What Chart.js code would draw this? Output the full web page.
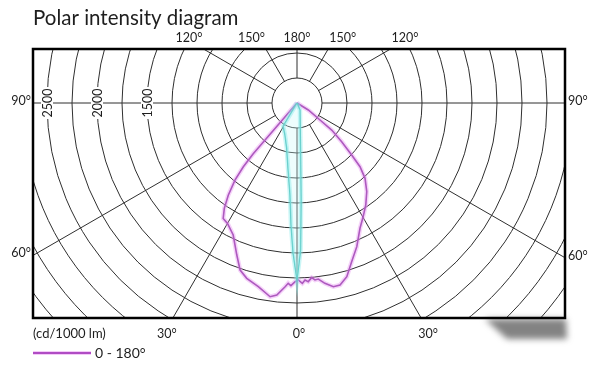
<!DOCTYPE html>
<html>
<head>
<meta charset="utf-8">
<title>Polar intensity diagram</title>
<script src="https://cdn.jsdelivr.net/npm/chart.js@4.4.1/dist/chart.umd.min.js"></script>
<style>
    html, body { margin: 0; padding: 0; background: #fff; }
    #wrap { width: 600px; height: 370px; }
</style>
</head>
<body>
<div id="wrap"><canvas id="polarChart" width="600" height="370"></canvas></div>
<script>
// --- 1. Data (angles in degrees from nadir, negative = left half; values in cd/1000 lm) ---
const magentaAngles = [-90, -40.8, -40.1, -38.8, -36.7, -34.6, -32.6, -30, -25.8, -21.6, -18.8, -16, -11.9, -7.9, -6,
    -3.7, -2.8, -1.9, -0.6, 0.4, 1.7, 2.6, 3.6, 4.8, 5.8, 6.9, 8.8, 11.2, 13.3, 16, 19, 22.6, 26.7, 30,
    34, 38.2, 42.1, 44.7, 46.4, 49.1, 52.1, 53.5, 58.2, 90];
const magentaValues = [0, 670, 833, 990, 1150, 1280, 1370, 1390, 1466, 1635, 1765, 1824, 1877, 1956, 1931,
    1841, 1805, 1828, 1787, 1770, 1804, 1772, 1790, 1753, 1779, 1773, 1825, 1873, 1870, 1807, 1679, 1556, 1402, 1320,
    1230, 1128, 1015, 896, 755, 591, 440, 286, 133, 0];

const cyanAngles = [-90, -31, -20.6, -12.9, -7.9, -4.35, -2.8, -1.5, 0, 1.4, 2.4, 4.3, 23, 90];
const cyanValues = [0, 269, 342, 462, 656, 923, 1221, 1500, 1770, 1470, 971, 471, 76, 0];

// Grid: rings (cd/1000 lm), spokes (degrees) and labels
const ringValues = [250, 500, 750, 1000, 1250, 1500, 1750, 2000, 2250, 2500, 2750, 3000, 3250];
const spokeAngles = [0, 30, 60, 90, 120, 150, 180];
const scaleLabels = [1500, 2000, 2500];
const titleText = 'Polar intensity diagram';
const unitText = '(cd/1000 lm)';
const legendText = '0 - 180°';

const FONT = 'Lato, "Open Sans", sans-serif';
const GRID_COLOR = '#2f2f2f';
const TEXT_COLOR = '#1e1e1e';

// --- 2. Helpers ---

/**
 * Converts polar readings (angle from nadir, intensity) into x/y points.
 */
function toPoints(angles, values) {
    return angles.map((a, i) => {
        const rad = a * Math.PI / 180;
        return { x: values[i] * Math.sin(rad), y: -values[i] * Math.cos(rad) };
    });
}

/**
 * Finds where a ray from the centre leaves the plot box.
 */
function edgeHit(cx, cy, dx, dy, area) {
    let t = Infinity, edge = '';
    const tests = [
        [dx < -1e-9, (area.left - cx) / dx, 'left'],
        [dx > 1e-9, (area.right - cx) / dx, 'right'],
        [dy < -1e-9, (area.top - cy) / dy, 'top'],
        [dy > 1e-9, (area.bottom - cy) / dy, 'bottom']
    ];
    tests.forEach(([ok, tt, name]) => {
        if (ok && tt < t) { t = tt; edge = name; }
    });
    return { x: cx + dx * t, y: cy + dy * t, edge: edge };
}

// --- 3. Plugin drawing the polar grid and all text ---
const polarGridPlugin = {
    id: 'polarGrid',
    beforeDatasetsDraw(chart) {
        const { ctx, chartArea: area, scales: { x, y } } = chart;
        const cx = x.getPixelForValue(0);
        const cy = y.getPixelForValue(0);
        const pxPer = (x.getPixelForValue(1000) - cx) / 1000;

        ctx.save();
        ctx.beginPath();
        ctx.rect(area.left, area.top, area.right - area.left, area.bottom - area.top);
        ctx.clip();
        ctx.strokeStyle = GRID_COLOR;
        ctx.lineWidth = 1;

        // rings
        ringValues.forEach(v => {
            ctx.beginPath();
            ctx.arc(cx, cy, v * pxPer, 0, Math.PI * 2);
            ctx.stroke();
        });

        // spokes, starting at the first ring
        const inner = ringValues[0] * pxPer;
        const outer = 4500 * pxPer;
        spokeAngles.forEach(a => {
            [-1, 1].forEach(side => {
                if ((a === 0 || a === 180) && side < 0) return;
                const rad = a * Math.PI / 180;
                const dx = side * Math.sin(rad), dy = Math.cos(rad);
                ctx.beginPath();
                ctx.moveTo(cx + dx * inner, cy + dy * inner);
                ctx.lineTo(cx + dx * outer, cy + dy * outer);
                ctx.stroke();
            });
        });

        // scale values written across the left horizontal
        ctx.font = '12.5px ' + FONT;
        ctx.textAlign = 'center';
        ctx.textBaseline = 'middle';
        scaleLabels.forEach(v => {
            ctx.save();
            ctx.translate(x.getPixelForValue(-v), cy);
            ctx.rotate(-Math.PI / 2);
            ctx.fillStyle = '#fff';
            ctx.fillRect(-16, -6, 32, 12);
            ctx.fillStyle = TEXT_COLOR;
            ctx.fillText(String(v), 0, 1);
            ctx.restore();
        });
        ctx.restore();
    },
    afterDatasetsDraw(chart) {
        const { ctx, chartArea: area, scales: { x, y } } = chart;
        const cx = x.getPixelForValue(0);
        const cy = y.getPixelForValue(0);

        ctx.save();

        // soft shadow under the bottom right corner
        ctx.filter = 'blur(3px)';
        ctx.fillStyle = 'rgba(90,90,90,0.75)';
        ctx.beginPath();
        ctx.moveTo(area.right - 80, area.bottom + 1);
        ctx.lineTo(area.right + 1, area.bottom + 1);
        ctx.lineTo(area.right + 2, area.bottom + 21);
        ctx.lineTo(area.right - 58, area.bottom + 21);
        ctx.closePath();
        ctx.fill();
        ctx.filter = 'none';

        // box border
        ctx.strokeStyle = '#000';
        ctx.lineWidth = 2.5;
        ctx.strokeRect(area.left, area.top, area.right - area.left, area.bottom - area.top);

        // angle labels around the box
        ctx.fillStyle = TEXT_COLOR;
        ctx.font = '12.5px ' + FONT;
        spokeAngles.forEach(a => {
            [-1, 1].forEach(side => {
                if ((a === 0 || a === 180) && side < 0) return;
                const rad = a * Math.PI / 180;
                const hit = edgeHit(cx, cy, side * Math.sin(rad), Math.cos(rad), area);
                const label = a + '°';
                const mid = (a === 0 || a === 180);
                if (hit.edge === 'top') {
                    ctx.textBaseline = 'alphabetic';
                    ctx.textAlign = mid ? 'center' : (side < 0 ? 'right' : 'left');
                    ctx.fillText(label, mid ? hit.x : hit.x + side * 1, area.top - 7);
                } else if (hit.edge === 'bottom') {
                    ctx.textBaseline = 'alphabetic';
                    ctx.textAlign = 'center';
                    ctx.fillText(label, mid ? hit.x + 2 : hit.x + (side < 0 ? -6 : 7), area.bottom + 20);
                } else if (hit.edge === 'left') {
                    ctx.textBaseline = 'middle';
                    ctx.textAlign = 'right';
                    ctx.fillText(label, area.left - 2, hit.y - 2);
                } else if (hit.edge === 'right') {
                    ctx.textBaseline = 'middle';
                    ctx.textAlign = 'left';
                    ctx.fillText(label, area.right + 3, hit.y - 2);
                }
            });
        });

        // title
        ctx.textAlign = 'left';
        ctx.textBaseline = 'alphabetic';
        ctx.font = '20.5px ' + FONT;
        ctx.fillText(titleText, area.left, 25);

        // unit
        ctx.font = '13px ' + FONT;
        ctx.textBaseline = 'middle';
        ctx.fillText(unitText, area.left, area.bottom + 16);

        // legend
        const ly = area.bottom + 35;
        ctx.strokeStyle = 'rgba(230,140,240,0.45)';
        ctx.lineWidth = 4;
        ctx.beginPath();
        ctx.moveTo(area.left, ly);
        ctx.lineTo(area.left + 58, ly);
        ctx.stroke();
        ctx.strokeStyle = '#b04cc4';
        ctx.lineWidth = 1.8;
        ctx.stroke();
        ctx.font = '14px ' + FONT;
        ctx.fillText(legendText, area.left + 62, ly);

        ctx.restore();
    }
};

// --- 4. Chart ---
const magentaPoints = toPoints(magentaAngles, magentaValues);
const cyanPoints = toPoints(cyanAngles, cyanValues);

const ctx = document.getElementById('polarChart').getContext('2d');
const polarChart = new Chart(ctx, {
    type: 'scatter',
    data: {
        datasets: [
            { // cyan glow + light fill
                data: cyanPoints, showLine: true, pointRadius: 0, tension: 0,
                borderColor: 'rgba(140,235,235,0.45)', borderWidth: 4.5,
                backgroundColor: 'rgba(200,248,248,0.3)', fill: 'shape'
            },
            { // cyan core
                data: cyanPoints, showLine: true, pointRadius: 0, tension: 0,
                borderColor: '#3fb3ac', borderWidth: 1.4, fill: false
            },
            { // magenta glow
                data: magentaPoints, showLine: true, pointRadius: 0, tension: 0,
                borderColor: 'rgba(228,140,240,0.38)', borderWidth: 4.5, fill: false
            },
            { // magenta core
                label: legendText,
                data: magentaPoints, showLine: true, pointRadius: 0, tension: 0,
                borderColor: '#8c3aa2', borderWidth: 1.6, fill: false
            }
        ]
    },
    options: {
        responsive: false,
        animation: false,
        layout: { padding: { left: 33, top: 49, right: 35, bottom: 52 } },
        scales: {
            x: { type: 'linear', min: -2640, max: 2680, display: false },
            y: { type: 'linear', min: -2150, max: 540, display: false }
        },
        plugins: {
            legend: { display: false },
            tooltip: { enabled: false }
        }
    },
    plugins: [polarGridPlugin]
});
</script>
</body>
</html>
